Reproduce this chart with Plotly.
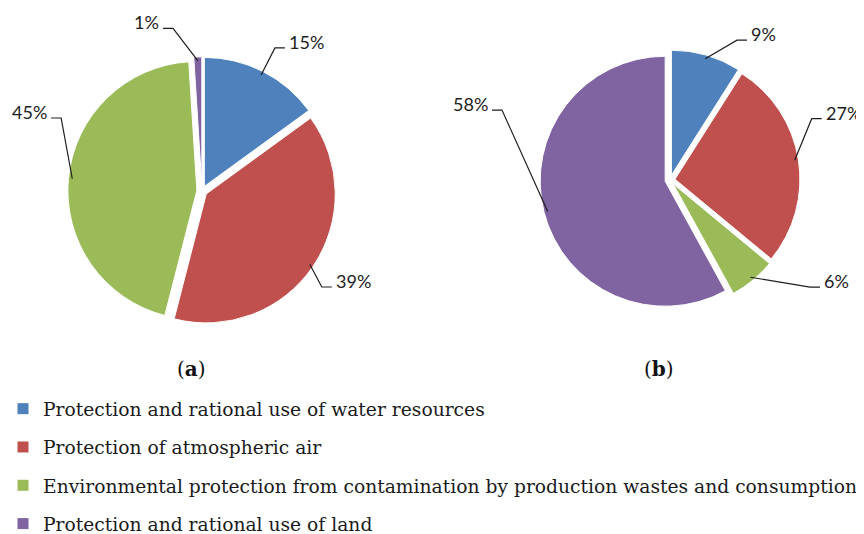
import math
import plotly.graph_objects as go

# ---------------- data ----------------
categories = [
    "Protection and rational use of water resources",
    "Protection of atmospheric air",
    "Environmental protection from contamination by production wastes and consumption",
    "Protection and rational use of land",
]
values_a = [15, 39, 45, 1]
values_b = [9, 27, 6, 58]
panel_names = ["a", "b"]

# ---------------- style / layout ----------------
colors = ["#4F81BD", "#C0504D", "#9BBB59", "#8064A2"]
OFF = 8                      # default page body margin of the html page
W, H = 864 - OFF, 534 - OFF  # figure size so that it fits the window
PULL = 0.04
LABEL_FONT = dict(family="Lato, Carlito, Calibri, sans-serif", size=18, color="#1e1e1e")
SERIF = "DejaVu Serif, Palatino Linotype, serif"

# pie geometry given in window pixels; label leader elbows as angle nudge / radius factor
pies = [
    dict(values=values_a, name=panel_names[0], cx=202, cy=191, r=129,
         nudge=[0, 4.5, 22, -8.3], dist=[1.245, 1.19, 1.23, 1.28]),
    dict(values=values_b, name=panel_names[1], cx=670, cy=180, r=125,
         nudge=[9.4, -14.4, -13, 37], dist=[1.24, 1.235, 1.41, 1.456]),
]


def px2paper(x, y):
    return (x - OFF) / W, 1 - (y - OFF) / H


fig = go.Figure()
annotations = []
shapes = []

for p in pies:
    R = p["r"] * (1 + PULL)
    x_lo, y_top = px2paper(p["cx"] - R, p["cy"] - R)
    x_hi, y_bot = px2paper(p["cx"] + R, p["cy"] + R)
    fig.add_trace(go.Pie(
        labels=categories, values=p["values"], sort=False, direction="clockwise",
        rotation=0, pull=[PULL] * len(p["values"]),
        marker=dict(colors=colors, line=dict(color="white", width=1)),
        textinfo="none", showlegend=False,
        domain=dict(x=[x_lo, x_hi], y=[y_bot, y_top]),
        hovertemplate="%{label}: %{value}%<extra></extra>",
    ))

    total = sum(p["values"])
    cum = 0.0
    for i, v in enumerate(p["values"]):
        mid = (cum + v / 2) / total * 360
        cum += v
        th = math.radians(mid)
        r0 = p["r"] * (1 + PULL - 0.03)
        x0 = p["cx"] + r0 * math.sin(th)
        y0 = p["cy"] - r0 * math.cos(th)
        th2 = math.radians(mid + p["nudge"][i])
        r1 = p["r"] * p["dist"][i]
        x1 = p["cx"] + r1 * math.sin(th2)
        y1 = p["cy"] - r1 * math.cos(th2)
        side = 1 if math.sin(th2) > 0 else -1
        x2 = x1 + side * 10
        y2 = y1
        a0, b0 = px2paper(x0, y0)
        a1, b1 = px2paper(x1, y1)
        a2, b2 = px2paper(x2, y2)
        shapes.append(dict(type="path", xref="paper", yref="paper",
                           path=f"M {a0},{b0} L {a1},{b1} L {a2},{b2}",
                           line=dict(color="#1e1e1e", width=1.2)))
        lx, ly = px2paper(x2 + side * 2, y2 - 6)
        annotations.append(dict(text=f"{v}%", x=lx, y=ly, xref="paper", yref="paper",
                                xanchor="left" if side > 0 else "right", yanchor="middle",
                                showarrow=False, font=LABEL_FONT))

    tx, ty = px2paper(p["cx"] - 11, 369)
    annotations.append(dict(text=f"(<b>{p['name']}</b>)", x=tx, y=ty, xref="paper", yref="paper",
                            xanchor="center", yanchor="middle", showarrow=False,
                            font=dict(family=SERIF, size=20, color="#111")))

# legend entries
for cat, col in zip(categories, colors):
    fig.add_trace(go.Scatter(x=[None], y=[None], mode="markers", name=cat, legendgroup=cat,
                             marker=dict(symbol="square", size=11, color=col),
                             showlegend=True, hoverinfo="skip"))

lgx, lgy = px2paper(OFF - 5, 390)
fig.update_layout(
    width=W, height=H,
    margin=dict(l=0, r=0, t=0, b=0, autoexpand=False),
    paper_bgcolor="white", plot_bgcolor="white",
    xaxis=dict(visible=False), yaxis=dict(visible=False),
    annotations=annotations, shapes=shapes,
    legend=dict(x=lgx, y=lgy, xanchor="left", yanchor="top",
                traceorder="grouped", tracegroupgap=11,
                font=dict(family=SERIF, size=18.7, color="#1a1a1a"),
                bgcolor="rgba(0,0,0,0)"),
)

fig.write_html("out.html")
